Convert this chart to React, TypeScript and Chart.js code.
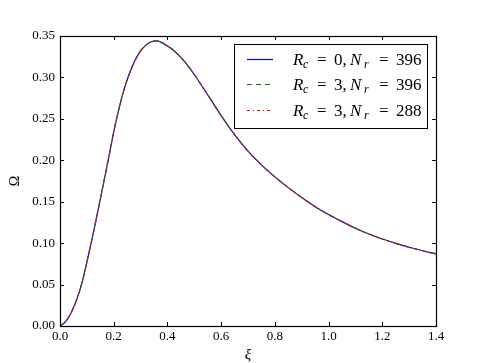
import React, { useEffect, useRef } from "react";
import { Chart, registerables } from "chart.js";

Chart.register(...registerables);

// ---- data ----
const xi = [
  0, 0.02, 0.04, 0.06, 0.08, 0.1, 0.12, 0.14, 0.16, 0.18, 0.2, 0.22, 0.24, 0.26,
  0.28, 0.3, 0.32, 0.34, 0.36, 0.38, 0.4, 0.42, 0.44, 0.46, 0.48, 0.5, 0.55, 0.6,
  0.65, 0.7, 0.75, 0.8, 0.85, 0.9, 0.95, 1.0, 1.05, 1.1, 1.15, 1.2, 1.25, 1.3,
  1.35, 1.4,
];
const omegaRc0Nr396 = [
  0, 0.005, 0.015, 0.03, 0.05, 0.077, 0.106, 0.137, 0.169, 0.201, 0.234, 0.263,
  0.287, 0.306, 0.321, 0.332, 0.339, 0.343, 0.344, 0.342, 0.338, 0.3335, 0.3275,
  0.3205, 0.3125, 0.3035, 0.279, 0.254, 0.231, 0.211, 0.1945, 0.18, 0.167, 0.155,
  0.144, 0.1345, 0.126, 0.118, 0.111, 0.105, 0.0998, 0.095, 0.0908, 0.087,
];
const omegaRc3Nr396 = [
  0, 0.005, 0.015, 0.03, 0.05, 0.077, 0.106, 0.137, 0.169, 0.201, 0.234, 0.263,
  0.287, 0.306, 0.321, 0.332, 0.339, 0.343, 0.344, 0.342, 0.338, 0.3335, 0.3275,
  0.3205, 0.3125, 0.3035, 0.279, 0.254, 0.231, 0.211, 0.1945, 0.18, 0.167, 0.155,
  0.144, 0.1345, 0.126, 0.118, 0.111, 0.105, 0.0998, 0.095, 0.0908, 0.087,
];
const omegaRc3Nr288 = [
  0, 0.005, 0.015, 0.03, 0.05, 0.077, 0.106, 0.137, 0.169, 0.201, 0.234, 0.263,
  0.287, 0.306, 0.321, 0.332, 0.339, 0.343, 0.344, 0.342, 0.338, 0.3335, 0.3275,
  0.3205, 0.3125, 0.3035, 0.279, 0.254, 0.231, 0.211, 0.1945, 0.18, 0.167, 0.155,
  0.144, 0.1345, 0.126, 0.118, 0.111, 0.105, 0.0998, 0.095, 0.0908, 0.087,
];
const legendRc = ["0", "3", "3"];
const legendNr = ["396", "396", "288"];
const xTitle = "ξ";
const yTitle = "Ω";

const SERIF = "'Liberation Serif', 'Times New Roman', serif";

const seriesStyles = [
  { color: "#0000ff", dash: [] as number[] },
  { color: "#008000", dash: [5, 4] },
  { color: "#ff0000", dash: [3, 3, 1, 3] },
];

const mplPlugin = {
  id: "mplDecor",
  afterDraw(chart: any) {
    const ctx = chart.ctx as CanvasRenderingContext2D;
    const { left, right, top, bottom } = chart.chartArea;
    const xs = chart.scales.x;
    const ys = chart.scales.y;
    ctx.save();
    // inward ticks
    ctx.strokeStyle = "#000";
    ctx.lineWidth = 1;
    ctx.beginPath();
    const tl = 4;
    xs.ticks.forEach((t: any) => {
      const px = Math.round(xs.getPixelForValue(t.value)) + 0.5;
      ctx.moveTo(px, bottom);
      ctx.lineTo(px, bottom - tl);
      ctx.moveTo(px, top);
      ctx.lineTo(px, top + tl);
    });
    ys.ticks.forEach((t: any) => {
      const py = Math.round(ys.getPixelForValue(t.value)) + 0.5;
      ctx.moveTo(left, py);
      ctx.lineTo(left + tl, py);
      ctx.moveTo(right, py);
      ctx.lineTo(right - tl, py);
    });
    ctx.stroke();
    // frame
    ctx.strokeStyle = "#000";
    ctx.lineWidth = 1.2;
    ctx.strokeRect(left + 0.5, top + 0.5, right - left, bottom - top);

    // legend
    const bx = 234.5, by = 44.5, bw = 193, bh = 84;
    ctx.fillStyle = "#fff";
    ctx.fillRect(bx, by, bw, bh);
    ctx.strokeStyle = "#000";
    ctx.lineWidth = 1;
    ctx.strokeRect(bx, by, bw, bh);
    const lineYs = [59.5, 84.5, 110.5];
    const baseYs = [64.5, 90, 116];
    for (let i = 0; i < 3; i++) {
      const st = seriesStyles[i];
      ctx.strokeStyle = st.color;
      ctx.lineWidth = 1.2;
      ctx.setLineDash(st.dash);
      ctx.beginPath();
      ctx.moveTo(247, lineYs[i]);
      ctx.lineTo(273, lineYs[i]);
      ctx.stroke();
      ctx.setLineDash([]);
      const x0 = 293;
      const b = baseYs[i];
      ctx.fillStyle = "#000";
      ctx.textBaseline = "alphabetic";
      ctx.textAlign = "left";
      ctx.font = `italic 17px ${SERIF}`;
      ctx.fillText("R", x0, b);
      ctx.font = `italic 12px ${SERIF}`;
      ctx.fillText("c", x0 + 10, b + 3);
      ctx.font = `17px ${SERIF}`;
      ctx.fillText("=", x0 + 24, b);
      ctx.fillText(legendRc[i] + ",", x0 + 41, b);
      ctx.font = `italic 17px ${SERIF}`;
      ctx.fillText("N", x0 + 57, b);
      ctx.font = `italic 12px ${SERIF}`;
      ctx.fillText("r", x0 + 71, b + 3);
      ctx.font = `17px ${SERIF}`;
      ctx.fillText("=", x0 + 86, b);
      ctx.fillText(legendNr[i], x0 + 103, b);
    }
    ctx.restore();
  },
};

export default function App() {
  const ref = useRef<HTMLCanvasElement | null>(null);
  useEffect(() => {
    document.body.style.margin = "0";
    const canvas = ref.current;
    if (!canvas) return;
    const series = [omegaRc0Nr396, omegaRc3Nr396, omegaRc3Nr288];
    const labels = ["R_c=0, N_r=396", "R_c=3, N_r=396", "R_c=3, N_r=288"];
    const datasets = series.map((s, i) => ({
      label: labels[i],
      data: xi.map((x, j) => ({ x, y: s[j] })),
      borderColor: seriesStyles[i].color,
      borderDash: seriesStyles[i].dash,
      borderWidth: 1.2,
      pointRadius: 0,
      fill: false,
      cubicInterpolationMode: "monotone" as const,
      order: 3 - i,
    }));
    const chart = new Chart(canvas, {
      type: "line",
      data: { datasets },
      options: {
        animation: false,
        responsive: false,
        devicePixelRatio: 1,
        layout: { padding: { left: 0, top: 36, right: 49, bottom: 0 } },
        plugins: { legend: { display: false }, tooltip: { enabled: false } },
        scales: {
          x: {
            type: "linear",
            min: 0,
            max: 1.4,
            grid: { display: false, drawTicks: false },
            border: { display: false },
            ticks: {
              stepSize: 0.2,
              autoSkip: false,
              maxRotation: 0,
              padding: 3,
              color: "#000",
              font: { family: SERIF, size: 13 },
              callback: (v: any) => Number(v).toFixed(1),
            },
            title: {
              display: true,
              text: xTitle,
              color: "#000",
              font: { family: SERIF, size: 15, style: "italic", lineHeight: 1 },
              padding: { top: 0, bottom: 0 },
            },
            afterFit: (s: any) => {
              s.height = 37;
            },
          },
          y: {
            type: "linear",
            min: 0,
            max: 0.35,
            grid: { display: false, drawTicks: false },
            border: { display: false },
            ticks: {
              stepSize: 0.05,
              autoSkip: false,
              padding: 5,
              color: "#000",
              font: { family: SERIF, size: 13 },
              callback: (v: any) => Number(v).toFixed(2),
            },
            title: {
              display: true,
              text: yTitle,
              color: "#000",
              font: { family: SERIF, size: 14, lineHeight: 1 },
              padding: { top: 8, bottom: 0 },
            },
            afterFit: (s: any) => {
              s.width = 60;
            },
          },
        },
      },
      plugins: [mplPlugin],
    });
    return () => chart.destroy();
  }, []);
  return (
    <div style={{ position: "fixed", left: 0, top: 0, width: 485, height: 363, background: "#fff" }}>
      <canvas ref={ref} width={485} height={363} style={{ display: "block", width: 485, height: 363 }} />
    </div>
  );
}
